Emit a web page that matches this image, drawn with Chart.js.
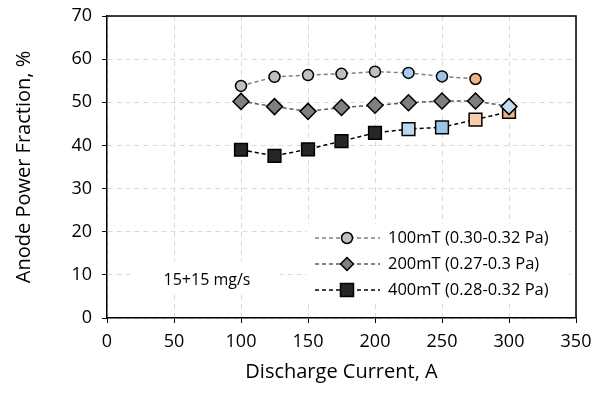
<!DOCTYPE html>
<html>
<head>
<meta charset="utf-8">
<script src="https://cdn.jsdelivr.net/npm/chart.js@4/dist/chart.umd.min.js"></script>
<style>
  body { margin: 0; background: #fff; }
  #wrap { width: 604px; height: 396px; }
</style>
</head>
<body>
<div id="wrap"><canvas id="myChart"></canvas></div>
<script>
// data
const current = [100, 125, 150, 175, 200, 225, 250, 275, 300];
const frac100 = [53.8, 55.9, 56.3, 56.6, 57.1, 56.8, 56.0, 55.4];
const frac200 = [50.2, 49.0, 47.9, 48.8, 49.3, 49.9, 50.3, 50.3, 49.0];
const frac400 = [39.0, 37.6, 39.1, 41.0, 42.9, 43.8, 44.2, 46.0, 47.8];
const labels = ["100mT (0.30-0.32 Pa)", "200mT (0.27-0.3 Pa)", "400mT (0.28-0.32 Pa)"];
const note = "15+15 mg/s";

// marker fills (some points are highlighted in the original)
const fill100 = ["#bfbfbf", "#bfbfbf", "#bfbfbf", "#bfbfbf", "#bfbfbf", "#a9cbea", "#9dc3e6", "#f4b183"];
const fill200 = ["#7f7f7f", "#7f7f7f", "#7f7f7f", "#7f7f7f", "#7f7f7f", "#7f7f7f", "#7f7f7f", "#7f7f7f", "#c5dcf0"];
const fill400 = ["#262626", "#262626", "#262626", "#262626", "#262626", "#bdd7ee", "#9dc3e6", "#f8cbad", "#f4b183"];

const toXY = (vals) => vals.map((v, i) => ({ x: current[i], y: v }));

const FONT = "'Open Sans', 'Noto Sans', sans-serif";

// legend + note drawn inside the plot with white boxes, plus the frame
const boxes = {
    id: "boxes",
    afterDatasetsDraw(chart) {
        const c = chart.ctx;
        const a = chart.chartArea;
        c.save();
        // frame top/right
        c.strokeStyle = "#000";
        c.lineWidth = 1.5;
        c.beginPath();
        c.moveTo(a.left, a.top);
        c.lineTo(a.right, a.top);
        c.lineTo(a.right, a.bottom);
        c.stroke();
        // note
        c.fillStyle = "#fff";
        c.fillRect(130, 262, 150, 31);
        c.fillStyle = "#000";
        c.font = "16px " + FONT;
        c.textAlign = "center";
        c.textBaseline = "middle";
        c.fillText(note, 207, 280);
        // legend
        c.fillStyle = "#fff";
        c.fillRect(307, 224, 262, 80);
        const rows = [238, 264, 290];
        chart.data.datasets.forEach((ds, i) => {
            const y = rows[i];
            c.strokeStyle = ds.borderColor;
            c.lineWidth = ds.borderWidth;
            c.setLineDash(ds.borderDash);
            c.beginPath();
            c.moveTo(315, y);
            c.lineTo(380, y);
            c.stroke();
            c.setLineDash([]);
            c.fillStyle = ds.pointBackgroundColor[0];
            c.strokeStyle = "#000";
            c.lineWidth = 1.5;
            c.beginPath();
            if (ds.pointStyle === "circle") {
                c.arc(347, y, 5.5, 0, Math.PI * 2);
            } else if (ds.pointStyle === "rectRot") {
                const r = 6.5;
                c.moveTo(347, y - r); c.lineTo(347 + r, y); c.lineTo(347, y + r); c.lineTo(347 - r, y); c.closePath();
            } else {
                c.rect(347 - 6.5, y - 6.5, 13, 13);
            }
            c.fill();
            c.stroke();
            c.fillStyle = "#000";
            c.font = "16.5px " + FONT;
            c.textAlign = "left";
            c.textBaseline = "middle";
            c.fillText(labels[i], 388, y);
        });
        c.restore();
    }
};

const ctx = document.getElementById("myChart");
new Chart(ctx, {
    type: "scatter",
    data: {
        datasets: [
            {
                label: labels[0], data: toXY(frac100), showLine: true,
                borderColor: "#808080", borderWidth: 1.5, borderDash: [4, 3],
                pointStyle: "circle", pointRadius: 5.5, pointHoverRadius: 5.5,
                pointBackgroundColor: fill100, pointBorderColor: "#000", pointBorderWidth: 1.5
            },
            {
                label: labels[1], data: toXY(frac200), showLine: true,
                borderColor: "#595959", borderWidth: 1.5, borderDash: [4, 3],
                pointStyle: "rectRot", pointRadius: 8, pointHoverRadius: 8,
                pointBackgroundColor: fill200, pointBorderColor: "#000", pointBorderWidth: 1.5
            },
            {
                label: labels[2], data: toXY(frac400), showLine: true,
                borderColor: "#000", borderWidth: 1.5, borderDash: [4, 3],
                pointStyle: "rect", pointRadius: 9, pointHoverRadius: 9,
                pointBackgroundColor: fill400, pointBorderColor: "#000", pointBorderWidth: 1.5
            }
        ]
    },
    options: {
        responsive: true,
        maintainAspectRatio: false,
        animation: false,
        layout: { padding: { left: 0, right: 28, top: 16, bottom: 0 } },
        plugins: { legend: { display: false }, tooltip: { enabled: false } },
        scales: {
            x: {
                type: "linear", min: 0, max: 350,
                ticks: { stepSize: 50, color: "#000", font: { family: FONT, size: 18 }, padding: 8 },
                grid: { color: "#d9d9d9", tickColor: "#000", tickBorderDash: [], tickLength: 5 },
                border: { color: "#000", width: 1.5, dash: [5, 4] },
                title: { display: true, text: "Discharge Current, A", color: "#000", font: { family: FONT, size: 20 }, padding: { top: 4, bottom: 12 } },
                afterFit: (s) => { s.height = 78; s.paddingLeft = 0; s.paddingRight = 0; }
            },
            y: {
                min: 0, max: 70,
                ticks: { stepSize: 10, color: "#000", font: { family: FONT, size: 18 }, padding: 10 },
                grid: { color: "#d9d9d9", tickColor: "#000", tickBorderDash: [], tickLength: 5 },
                border: { color: "#000", width: 1.5, dash: [5, 4] },
                title: { display: true, text: "Anode Power Fraction, %", color: "#000", font: { family: FONT, size: 20 }, padding: { top: 12 } },
                afterFit: (s) => { s.width = 107; s.paddingTop = 0; s.paddingBottom = 0; }
            }
        }
    },
    plugins: [boxes]
});
</script>
</body>
</html>
